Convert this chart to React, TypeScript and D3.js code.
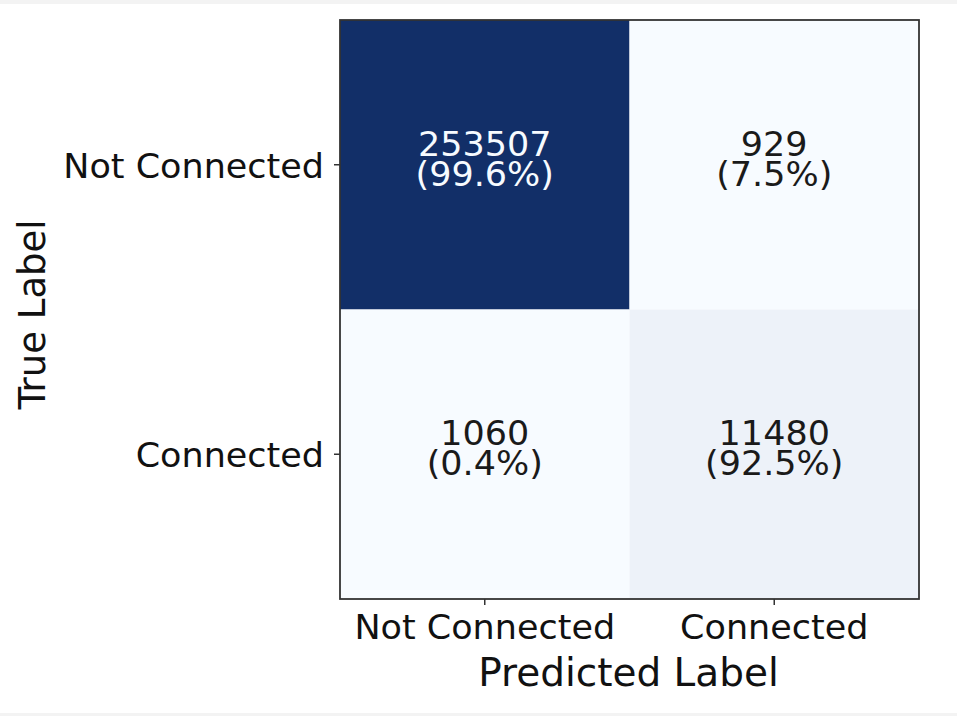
import React from "react";
import * as d3 from "d3";

const predictedLabels = ["Not Connected", "Connected"];
const trueLabels = ["Not Connected", "Connected"];
// counts[row=true][col=predicted]
const countsNotConnected = [253507, 929];
const countsConnected = [1060, 11480];
const percentLabels = [
  ["99.6%", "7.5%"],
  ["0.4%", "92.5%"],
];

const W = 957;
const H = 716;
const FONT = "'DejaVu Sans', sans-serif";

export default function App() {
  const counts = [countsNotConnected, countsConnected];
  const left = 340, right = 919, top = 20, bottom = 599;
  const x = d3.scaleBand<string>().domain(predictedLabels).range([left, right]).padding(0);
  const y = d3.scaleBand<string>().domain(trueLabels).range([top, bottom]).padding(0);
  const all = counts.flat();
  const color = d3
    .scaleSequential(d3.interpolateRgb("#f7fbff", "#122f68"))
    .domain([d3.min(all) as number, d3.max(all) as number]);
  const thresh = (d3.max(all) as number) / 2;

  const cells: any[] = [];
  counts.forEach((row, i) =>
    row.forEach((v, j) => {
      cells.push({ v, i, j, tl: trueLabels[i], pl: predictedLabels[j], pct: percentLabels[i][j] });
    })
  );

  return (
    <svg
      width={W}
      height={H}
      style={{ position: "absolute", left: 0, top: 0, background: "#fff" }}
      fontFamily={FONT}
    >
      <rect x={0} y={0} width={W} height={H} fill="#ffffff" />
      <rect x={0} y={0} width={W} height={4} fill="#f3f3f3" />
      <rect x={0} y={H - 3} width={W} height={3} fill="#f3f3f3" />
      {cells.map((c) => (
        <rect
          key={`r${c.i}${c.j}`}
          x={x(c.pl)}
          y={y(c.tl)}
          width={x.bandwidth()}
          height={y.bandwidth()}
          fill={color(c.v)}
        />
      ))}
      {cells.map((c) => {
        const cx = (x(c.pl) as number) + x.bandwidth() / 2;
        const cy = (y(c.tl) as number) + y.bandwidth() / 2;
        const fill = c.v > thresh ? "#f7fbff" : "#1a1a1a";
        return (
          <g key={`t${c.i}${c.j}`} transform={`translate(${cx},${cy}) scale(1.06,1)`} fill={fill} fontSize={33}>
            <text x={0} y={-9} textAnchor="middle">
              <tspan x={0} y={-9}>{c.v}</tspan>
              <tspan x={0} y={21}>{`(${c.pct})`}</tspan>
            </text>
          </g>
        );
      })}
      <rect
        x={left}
        y={top}
        width={right - left}
        height={bottom - top}
        fill="none"
        stroke="#333"
        strokeWidth={1.8}
      />
      {/* y ticks */}
      {trueLabels.map((t) => {
        const yy = (y(t) as number) + y.bandwidth() / 2;
        return (
          <g key={`yt${t}`}>
            <line x1={left - 6} x2={left} y1={yy} y2={yy} stroke="#333" strokeWidth={1.5} />
            <text
              transform={`translate(${left - 16},${yy + 1}) scale(1.06,1)`}
              dy="0.36em"
              textAnchor="end"
              fontSize={33}
              fill="#111"
            >
              {t}
            </text>
          </g>
        );
      })}
      {/* x ticks */}
      {predictedLabels.map((t) => {
        const xx = (x(t) as number) + x.bandwidth() / 2;
        return (
          <g key={`xt${t}`}>
            <line x1={xx} x2={xx} y1={bottom} y2={bottom + 6} stroke="#333" strokeWidth={1.5} />
            <text
              transform={`translate(${xx},${bottom + 40}) scale(1.06,1)`}
              textAnchor="middle"
              fontSize={33}
              fill="#111"
            >
              {t}
            </text>
          </g>
        );
      })}
      <text x={(left + right) / 2 - 1} y={686} textAnchor="middle" fontSize={39} fill="#111">
        Predicted Label
      </text>
      <text
        transform={`translate(45,${(top + bottom) / 2 + 5}) rotate(-90)`}
        textAnchor="middle"
        fontSize={37}
        fill="#111"
      >
        True Label
      </text>
    </svg>
  );
}
